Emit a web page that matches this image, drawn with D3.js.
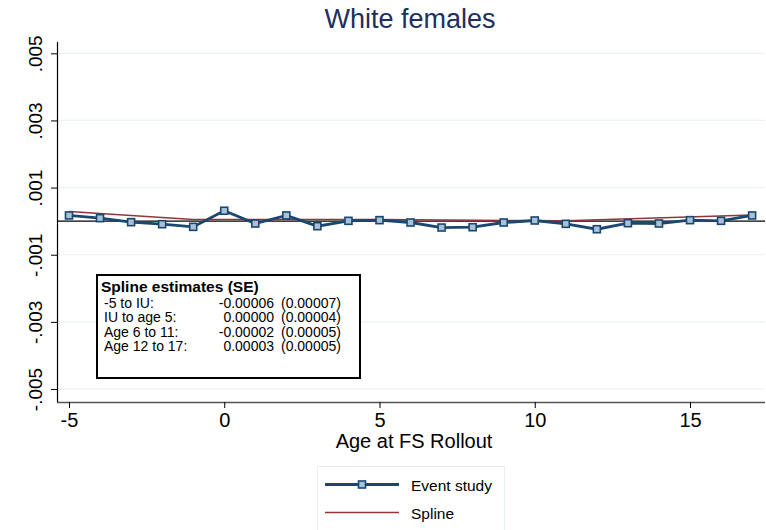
<!DOCTYPE html>
<html>
<head>
<meta charset="utf-8">
<script src="https://cdn.jsdelivr.net/npm/d3@7"></script>
<style>
  body { margin: 0; background: #fff; }
  svg { font-family: "Liberation Sans", Arial, sans-serif; }
</style>
</head>
<body>
<div id="chart"></div>
<script>
// 事件研究数据
const ages = [-5, -4, -3, -2, -1, 0, 1, 2, 3, 4, 5, 6, 7, 8, 9, 10, 11, 12, 13, 14, 15, 16, 17];
const eventStudy = [0.00017, 0.00009, -0.00003, -0.00009, -0.00017, 0.00031, -0.00007, 0.00017, -0.00015, 0.00001, 0.00003,
                    -0.00004, -0.00019, -0.00018, -0.00004, 0.00002, -0.00008, -0.00024, -0.00006, -0.00007, 0.00003, 0.00001, 0.00017];
// 样条节点
const splineAges = [-5, -1, 5, 11, 17];
const splineValues = [0.00029, 0.00005, 0.00005, 0.00001, 0.00018];
// 刻度
const xTicks = [-5, 0, 5, 10, 15];
const yTicks = [-0.005, -0.003, -0.001, 0.001, 0.003, 0.005];
const yTickLabels = ["-.005", "-.003", "-.001", ".001", ".003", ".005"];
// 文本框
const boxTitle = "Spline estimates (SE)";
const boxLabels = ["-5 to IU:", "IU to age 5:", "Age 6 to 11:", "Age 12 to 17:"];
const boxEst = ["-0.00006", "0.00000", "-0.00002", "0.00003"];
const boxSE = ["(0.00007)", "(0.00004)", "(0.00005)", "(0.00005)"];

const width = 766, height = 530;
const plotLeft = 57, plotRight = 765, plotTop = 42, plotBottom = 402;

const svg = d3.select('#chart').append('svg')
    .attr('width', width)
    .attr('height', height);

const x = d3.scaleLinear().domain([-5.386, 17.415]).range([plotLeft, plotRight]);
const y = d3.scaleLinear().domain([-0.005387, 0.005337]).range([plotBottom, plotTop]);

// 网格线
svg.append('g')
    .selectAll('line')
    .data(yTicks)
    .enter().append('line')
    .attr('x1', plotLeft).attr('x2', plotRight)
    .attr('y1', d => y(d)).attr('y2', d => y(d))
    .attr('stroke', '#eaf2f3')
    .attr('stroke-width', 1.2);

// 零线
svg.append('line')
    .attr('x1', plotLeft).attr('x2', plotRight)
    .attr('y1', y(0)).attr('y2', y(0))
    .attr('stroke', '#000')
    .attr('stroke-width', 1.3);

// 样条线
svg.append('path')
    .datum(splineAges.map((a, i) => [a, splineValues[i]]))
    .attr('fill', 'none')
    .attr('stroke', '#90353b')
    .attr('stroke-width', 1.5)
    .attr('d', d3.line().x(d => x(d[0])).y(d => y(d[1])));

// 事件研究线
svg.append('path')
    .datum(ages.map((a, i) => [a, eventStudy[i]]))
    .attr('fill', 'none')
    .attr('stroke', '#1a476f')
    .attr('stroke-width', 2.8)
    .attr('d', d3.line().x(d => x(d[0])).y(d => y(d[1])));

svg.append('g')
    .selectAll('rect')
    .data(ages.map((a, i) => [a, eventStudy[i]]))
    .enter().append('rect')
    .attr('x', d => x(d[0]) - 3.5)
    .attr('y', d => y(d[1]) - 3.5)
    .attr('width', 7).attr('height', 7)
    .attr('fill', '#a9c1d6')
    .attr('stroke', '#1a476f')
    .attr('stroke-width', 1.6);

// 坐标轴
const xAxis = svg.append('g')
    .attr('transform', `translate(0,${plotBottom})`)
    .call(d3.axisBottom(x).tickValues(xTicks).tickSize(6).tickFormat(d3.format('d')));
xAxis.select('.domain').attr('d', `M${plotLeft},0.5H${plotRight}`).attr('stroke', '#555').attr('stroke-width', 1.5);
xAxis.selectAll('.tick line').attr('stroke', '#000');
xAxis.selectAll('.tick text').attr('font-size', 20).attr('fill', '#000')
    .attr('y', 25).attr('dy', 0)
    .text(d => d < 0 ? '-' + Math.abs(d) : d);

const yAxis = svg.append('g')
    .attr('transform', `translate(${plotLeft},0)`)
    .call(d3.axisLeft(y).tickValues(yTicks).tickSize(6).tickFormat((d, i) => yTickLabels[i]));
yAxis.select('.domain').attr('d', `M0.5,${plotTop}V${plotBottom}`).attr('stroke', '#000').attr('stroke-width', 1.2);
yAxis.selectAll('.tick line').attr('stroke', '#000');
yAxis.selectAll('.tick text')
    .attr('font-size', 19).attr('fill', '#000')
    .attr('x', 0).attr('dy', 0)
    .attr('text-anchor', 'middle')
    .attr('transform', 'translate(-15,0) rotate(-90)');

// 标题和轴标签
svg.append('text')
    .attr('x', 410).attr('y', 28)
    .attr('text-anchor', 'middle')
    .attr('font-size', 27)
    .attr('fill', '#1e2f5c')
    .text('White females');

svg.append('text')
    .attr('x', 414).attr('y', 448)
    .attr('text-anchor', 'middle')
    .attr('font-size', 20)
    .attr('fill', '#000')
    .text('Age at FS Rollout');

// 样条估计文本框
const box = svg.append('g');
box.append('rect')
    .attr('x', 97).attr('y', 275)
    .attr('width', 263).attr('height', 103)
    .attr('fill', '#fff')
    .attr('stroke', '#000')
    .attr('stroke-width', 2);
box.append('text')
    .attr('x', 101).attr('y', 292)
    .attr('font-size', 15.5).attr('font-weight', 'bold')
    .text(boxTitle);
boxLabels.forEach((lab, i) => {
    const yy = 307.5 + i * 14.5;
    box.append('text').attr('x', 104).attr('y', yy).attr('font-size', 14).text(lab);
    box.append('text').attr('x', 274).attr('y', yy).attr('font-size', 14).attr('text-anchor', 'end').text(boxEst[i]);
    box.append('text').attr('x', 281).attr('y', yy).attr('font-size', 14).text(boxSE[i]);
});

// 图例
const legend = svg.append('g');
legend.append('rect')
    .attr('x', 317.5).attr('y', 466.5)
    .attr('width', 187).attr('height', 66)
    .attr('fill', '#fff')
    .attr('stroke', '#e6eef0')
    .attr('stroke-width', 1);
legend.append('line')
    .attr('x1', 325).attr('x2', 399).attr('y1', 484.5).attr('y2', 484.5)
    .attr('stroke', '#1a476f').attr('stroke-width', 2.8);
legend.append('rect')
    .attr('x', 358.5).attr('y', 481).attr('width', 7).attr('height', 7)
    .attr('fill', '#a9c1d6').attr('stroke', '#1a476f').attr('stroke-width', 1.6);
legend.append('text').attr('x', 411).attr('y', 491).attr('font-size', 15.5).text('Event study');
legend.append('line')
    .attr('x1', 325).attr('x2', 399).attr('y1', 512.5).attr('y2', 512.5)
    .attr('stroke', '#90353b').attr('stroke-width', 1.5);
legend.append('text').attr('x', 411).attr('y', 519).attr('font-size', 15.5).text('Spline');
</script>
</body>
</html>
